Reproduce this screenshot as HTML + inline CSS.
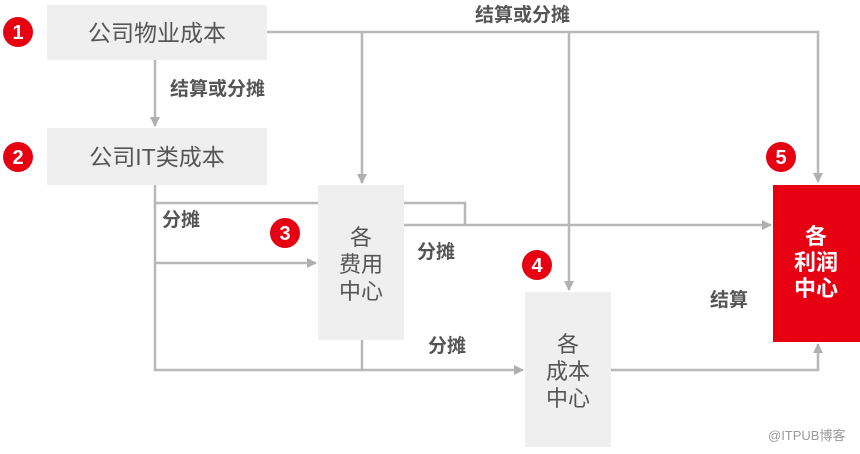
<!DOCTYPE html>
<html><head><meta charset="utf-8"><style>
body{margin:0;background:#fff;font-family:"Liberation Sans","Noto Sans CJK SC",sans-serif;}
svg text{font-family:"Liberation Sans","Noto Sans CJK SC",sans-serif;}
</style></head><body>
<svg width="860" height="449" viewBox="0 0 860 449" xmlns="http://www.w3.org/2000/svg">
<defs><marker id="a" markerWidth="10" markerHeight="10" refX="9" refY="5" orient="auto" markerUnits="userSpaceOnUse"><path d="M0,0 L10,5 L0,10 z" fill="#b0b0b0"/></marker></defs>
<g stroke="#b8b8b8" stroke-width="2.5" fill="none">
<path d="M267,32 H818 V182" marker-end="url(#a)"/>
<path d="M362,32 V183" marker-end="url(#a)"/>
<path d="M569,32 V290" marker-end="url(#a)"/>
<path d="M155,60 V126" marker-end="url(#a)"/>
<path d="M155,185 V370 H523" marker-end="url(#a)"/>
<path d="M155,203 H465 V225"/>
<path d="M404,225 H771" marker-end="url(#a)"/>
<path d="M155,263 H316" marker-end="url(#a)"/>
<path d="M362,340 V370"/>
<path d="M611,370 H818 V344" marker-end="url(#a)"/>
</g>
<rect x="47" y="5" width="220" height="55" fill="#efefef"/>
<rect x="47" y="128" width="220" height="57" fill="#efefef"/>
<rect x="318" y="185" width="86" height="155" fill="#efefef"/>
<rect x="525" y="292" width="86" height="155" fill="#efefef"/>
<rect x="773" y="185" width="87" height="157" fill="#e60012"/>
<g font-size="23" fill="#555" text-anchor="middle">
<text x="157" y="41">公司物业成本</text>
<text x="157" y="165">公司IT类成本</text>
</g>
<g font-size="22" fill="#555" text-anchor="middle">
<text x="361" y="245">各</text><text x="361" y="272">费用</text><text x="361" y="299">中心</text>
<text x="568" y="352">各</text><text x="568" y="379">成本</text><text x="568" y="406">中心</text>
</g>
<g font-size="22" fill="#fff" text-anchor="middle" font-weight="bold">
<text x="816" y="244">各</text><text x="816" y="270">利润</text><text x="816" y="296">中心</text>
</g>
<g font-size="19" fill="#555" font-weight="bold">
<text x="475" y="21">结算或分摊</text>
<text x="170" y="95">结算或分摊</text>
<text x="162" y="226">分摊</text>
<text x="417" y="258">分摊</text>
<text x="428" y="352">分摊</text>
<text x="710" y="306">结算</text>
</g>
<g fill="#e60012"><circle cx="18" cy="32" r="15"/><circle cx="18" cy="157" r="15"/><circle cx="285" cy="233" r="15"/><circle cx="537" cy="265" r="15"/><circle cx="781" cy="157" r="15"/></g>
<g fill="#fff" font-size="20" font-weight="bold" text-anchor="middle">
<text x="18" y="39">1</text><text x="18" y="164">2</text><text x="285" y="240">3</text><text x="537" y="272">4</text><text x="781" y="164">5</text>
</g>
<text x="768" y="440" font-size="13" fill="#999">@ITPUB博客</text>
</svg>
</body></html>
